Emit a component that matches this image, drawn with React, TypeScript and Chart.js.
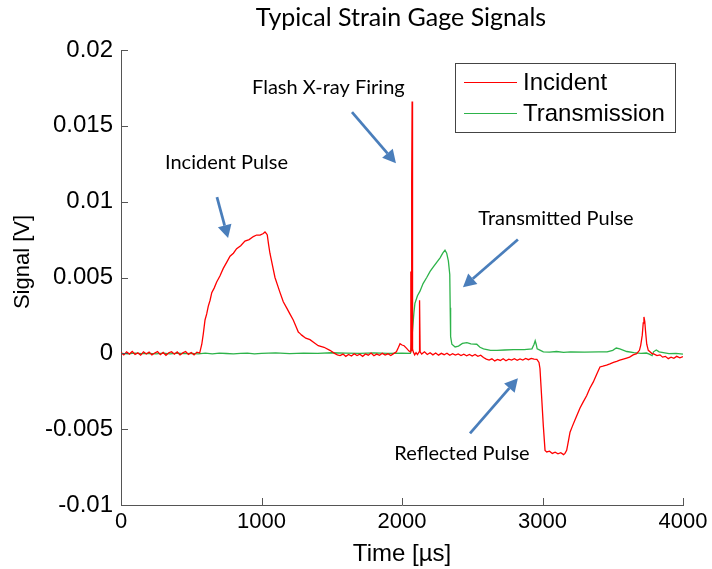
import React, { useEffect, useRef } from "react";
import { Chart, registerables } from "chart.js";

Chart.register(...registerables);

// ---- Data (time in µs, signal in V) ----
const incidentT = [
  0, 20, 40, 60, 80, 100, 120, 140, 160, 180, 200, 220, 240, 260, 280, 300, 320, 340, 360, 380,
  400, 420, 440, 460, 480, 500, 520, 540, 560, 575, 586, 598, 610, 621, 634, 646, 663, 681, 704, 728,
  752, 776, 800, 823, 852, 882, 912, 942, 965, 990, 1013, 1025, 1035, 1041, 1050, 1060, 1078, 1096, 1114, 1132,
  1155, 1179, 1202, 1226, 1244, 1262, 1275, 1286, 1315, 1345, 1375, 1404, 1445, 1487, 1520, 1540, 1559, 1580, 1600, 1620,
  1640, 1660, 1680, 1700, 1720, 1740, 1760, 1780, 1800, 1820, 1840, 1860, 1880, 1900, 1920, 1940, 1960, 1975, 1986, 2000,
  2015, 2033, 2050, 2060, 2063, 2066, 2069, 2072, 2075, 2080, 2090, 2100, 2110, 2122, 2125, 2129, 2140, 2160, 2180, 2200,
  2220, 2240, 2260, 2280, 2300, 2320, 2340, 2360, 2380, 2400, 2420, 2440, 2460, 2480, 2500, 2520, 2540, 2560, 2580, 2600,
  2620, 2640, 2660, 2680, 2700, 2720, 2740, 2760, 2780, 2800, 2820, 2840, 2860, 2880, 2900, 2920, 2940, 2960, 2975, 2982,
  2994, 3006, 3018, 3030, 3050, 3070, 3090, 3110, 3130, 3150, 3160, 3172, 3184, 3196, 3213, 3231, 3249, 3267, 3290, 3314,
  3337, 3361, 3385, 3409, 3430, 3456, 3480, 3505, 3528, 3550, 3575, 3599, 3620, 3645, 3670, 3690, 3699, 3710, 3717, 3722,
  3728, 3733, 3742, 3753, 3765, 3777, 3795, 3815, 3836, 3855, 3875, 3895, 3915, 3935, 3955, 3978, 4000,
];
const incidentV = [
  0.00005, -0.0001, 0.0001, -0.00005, 0.00012, -0.00008, 0.00003, -0.00012, 0.0001, -0.00004, 0.00008, -0.0001, 0.00002, 0.00011, -0.00009, 0.00006, -0.00013, 0.00004, 0.0001, -0.00006,
  0.00009, -0.00011, 0.00003, 0.00012, -0.00007, 0.00005, -0.0001, 0.00008, 0.00002, 0.0006, 0.0013, 0.0022, 0.0026, 0.0031, 0.0035, 0.004, 0.0043, 0.0047, 0.0051, 0.0056,
  0.006, 0.0064, 0.0066, 0.0069, 0.0071, 0.0074, 0.0075, 0.0077, 0.0078, 0.0078, 0.0079, 0.008, 0.0079, 0.0078, 0.0072, 0.0066, 0.0058, 0.005, 0.0045, 0.004,
  0.0034, 0.003, 0.0026, 0.0022, 0.0018, 0.0014, 0.0013, 0.0012, 0.001, 0.0009, 0.0007, 0.0005, 0.0004, 0.0002, 0.0, -0.0001, -0.00015, -0.00005, -0.0002, -0.00008,
  -0.00018, -0.00003, -0.00015, -0.00006, -0.0002, -0.00004, -0.00012, 0.00002, -0.00016, -0.00005, -0.00013, 0.0, -0.00011, -0.00003, -0.00014, -0.00002, 0.0001, 0.0004, 0.00064, 0.00055,
  0.0005, 0.00033, 0.00015, 0.0001, 0.0054, 0.0002, 0.0114, 0.0166, 0.0003, 0.0001, -0.0001, 0.00005, -0.00008, 0.0001, 0.0035, 0.0001, -0.00005, 0.0001, -0.00008, 0.00004,
  -0.0001, 0.00002, -0.00012, 0.0, -0.00009, 0.00001, -0.00013, -0.00002, -0.00012, -0.00004, -0.00015, -0.00006, -0.00016, -0.00007, -0.00018, -0.00008, -0.0002, -0.00012, -0.00028, -0.00038,
  -0.00045, -0.00036, -0.0005, -0.0004, -0.00047, -0.00036, -0.00049, -0.00038, -0.00045, -0.00035, -0.00046, -0.00037, -0.00044, -0.00034, -0.00042, -0.00033, -0.00038, -0.0004, -0.0006, -0.001,
  -0.0029, -0.0048, -0.0064, -0.0065, -0.00645, -0.0066, -0.00652, -0.00662, -0.00655, -0.00668, -0.0066, -0.0064, -0.0058, -0.0052, -0.0048, -0.0044, -0.004, -0.0036, -0.0032, -0.0028,
  -0.0023, -0.0019, -0.0014, -0.0009, -0.00085, -0.00078, -0.0007, -0.0006, -0.00053, -0.00045, -0.00038, -0.00031, -0.00025, -0.0001, -0.00002, 0.0002, 0.00053, 0.0012, 0.002, 0.0024,
  0.0021, 0.0015, 0.0006, 0.0002, 0.0001, 0.0, -0.00005, -0.00015, -0.0001, -0.00025, -0.0002, -0.00035, -0.00025, -0.00033, -0.0002, -0.0003, -0.00022,
];

const transT = [
  0, 50, 100, 150, 200, 250, 300, 350, 400, 450, 500, 550, 600, 650, 700, 750, 800, 850, 900, 950,
  1000, 1100, 1200, 1300, 1400, 1500, 1600, 1700, 1800, 1900, 2000, 2060, 2066, 2072, 2085, 2092, 2110, 2128, 2150, 2176,
  2200, 2223, 2247, 2271, 2290, 2306, 2318, 2330, 2340, 2343, 2346, 2355, 2378, 2402, 2430, 2462, 2490, 2532, 2555, 2580,
  2630, 2676, 2730, 2795, 2870, 2925, 2940, 2948, 2955, 2962, 2985, 3006, 3050, 3100, 3150, 3200, 3300, 3400, 3460, 3500,
  3525, 3550, 3600, 3650, 3700, 3740, 3760, 3780, 3790, 3810, 3830, 3860, 3900, 3950, 4000,
];
const transV = [
  0.0, -0.00003, 0.00002, -0.00002, 0.0, -0.00004, 0.00001, -0.00003, 0.00002, -0.00002, 0.0, -0.00004, 0.00001, -0.00003, 0.00002, -0.00001, -0.00004, 0.0, 0.00002, -0.00003,
  0.0, 0.00003, -0.00002, 0.00002, 0.0, 0.00004, 0.00002, 0.0, 0.00003, 0.0, 0.00002, 0.0, 0.0004, 0.0012, 0.0027, 0.0033, 0.0038, 0.0041, 0.0046, 0.005,
  0.0054, 0.0057, 0.006, 0.0063, 0.0066, 0.0068, 0.0066, 0.0061, 0.0052, 0.003, 0.0011, 0.0006, 0.00042, 0.00048, 0.00065, 0.0007, 0.00062, 0.0006, 0.0004, 0.0003,
  0.0002, 0.0002, 0.00022, 0.00025, 0.00025, 0.0003, 0.0006, 0.00083, 0.0006, 0.0003, 0.0002, 0.0001, 0.00008, 0.00012, 0.00006, 0.0001, 0.00008, 0.0001, 0.0001, 0.0002,
  0.00035, 0.0003, 0.00012, 0.00005, 0.0, 0.00002, -0.00005, -0.00015, 0.0001, 0.00022, 0.0001, 0.00005, -0.00002, 0.0, -0.00005,
];

const seriesNames = ["Incident", "Transmission"];
const seriesColors = ["#ff0000", "#2db34a"];

const xTicks = [0, 1000, 2000, 3000, 4000];
const yTicks = [-0.01, -0.005, 0, 0.005, 0.01, 0.015, 0.02];

const chartTitle = "Typical Strain Gage Signals";
const xTitle = "Time [µs]";
const yTitle = "Signal [V]";

// annotation labels: text at (time, signal)
const noteTexts = ["Flash X-ray Firing", "Incident Pulse", "Transmitted Pulse", "Reflected Pulse"];
const noteT = [1476, 751, 3096, 2427];
const noteV = [0.0175, 0.0126, 0.0089, -0.0066];
// arrows: start (t, v) -> tip (t, v)
const arrowT0 = [1644, 683, 2825, 2484];
const arrowV0 = [0.0159, 0.0103, 0.0075, -0.00528];
const arrowT1 = [1957, 762, 2434, 2825];
const arrowV1 = [0.01254, 0.0076, 0.00436, -0.00165];

const AXIS_FONT = "'Liberation Sans', Arial, sans-serif";
const NOTE_FONT = "Lato, 'Open Sans', sans-serif";

const overlay = {
  id: "overlay",
  afterDraw(chart: any) {
    const { ctx, chartArea } = chart;
    const xs = chart.scales.x;
    const ys = chart.scales.y;
    ctx.save();
    // inward ticks
    ctx.strokeStyle = "#555";
    ctx.lineWidth = 1;
    xTicks.forEach((t) => {
      const px = Math.round(xs.getPixelForValue(t)) + 0.5;
      ctx.beginPath();
      ctx.moveTo(px, chartArea.bottom);
      ctx.lineTo(px, chartArea.bottom - 7);
      ctx.stroke();
    });
    yTicks.forEach((v) => {
      const py = Math.round(ys.getPixelForValue(v)) + 0.5;
      ctx.beginPath();
      ctx.moveTo(chartArea.left, py);
      ctx.lineTo(chartArea.left + 7, py);
      ctx.stroke();
    });

    // y axis title
    ctx.fillStyle = "#000";
    ctx.save();
    ctx.translate(23, 262);
    ctx.rotate(-Math.PI / 2);
    ctx.font = `22px ${AXIS_FONT}`;
    ctx.textAlign = "center";
    ctx.textBaseline = "middle";
    ctx.fillText(yTitle, 0, 0);
    ctx.restore();

    // title
    ctx.font = `25px ${NOTE_FONT}`;
    ctx.textAlign = "center";
    ctx.textBaseline = "middle";
    ctx.fillText(chartTitle, 401, 18);

    // annotation texts
    ctx.font = `20px ${NOTE_FONT}`;
    noteTexts.forEach((txt, i) => {
      ctx.fillText(txt, xs.getPixelForValue(noteT[i]), ys.getPixelForValue(noteV[i]));
    });

    // arrows
    ctx.strokeStyle = "#4a7ebb";
    ctx.fillStyle = "#4a7ebb";
    ctx.lineWidth = 2.75;
    arrowT0.forEach((_, i) => {
      const x0 = xs.getPixelForValue(arrowT0[i]);
      const y0 = ys.getPixelForValue(arrowV0[i]);
      const x1 = xs.getPixelForValue(arrowT1[i]);
      const y1 = ys.getPixelForValue(arrowV1[i]);
      const ang = Math.atan2(y1 - y0, x1 - x0);
      const hl = 13;
      const hw = 7;
      const bx = x1 - hl * Math.cos(ang);
      const by = y1 - hl * Math.sin(ang);
      ctx.beginPath();
      ctx.moveTo(x0, y0);
      ctx.lineTo(bx, by);
      ctx.stroke();
      ctx.beginPath();
      ctx.moveTo(x1, y1);
      ctx.lineTo(bx + hw * Math.sin(ang), by - hw * Math.cos(ang));
      ctx.lineTo(bx - hw * Math.sin(ang), by + hw * Math.cos(ang));
      ctx.closePath();
      ctx.fill();
    });

    // legend box
    const lx = 455, ly = 63, lw = 220, lh = 69;
    ctx.fillStyle = "#fff";
    ctx.fillRect(lx, ly, lw, lh);
    ctx.strokeStyle = "#444";
    ctx.lineWidth = 1;
    ctx.strokeRect(lx + 0.5, ly + 0.5, lw, lh);
    ctx.font = `24px ${AXIS_FONT}`;
    ctx.textAlign = "left";
    ctx.textBaseline = "middle";
    seriesNames.forEach((name, i) => {
      const yy = ly + 19 + i * 31;
      ctx.strokeStyle = seriesColors[i];
      ctx.beginPath();
      ctx.moveTo(lx + 9, yy + 0.5);
      ctx.lineTo(lx + 62, yy + 0.5);
      ctx.stroke();
      ctx.fillStyle = "#000";
      ctx.fillText(name, lx + 68, yy + 1);
    });
    ctx.restore();
  },
};

export default function App() {
  const ref = useRef<HTMLCanvasElement>(null);
  useEffect(() => {
    document.body.style.margin = "0";
    const canvas = ref.current!;
    const chart = new Chart(canvas, {
      type: "line",
      data: {
        datasets: [
          {
            label: seriesNames[0],
            data: incidentT.map((t, i) => ({ x: t, y: incidentV[i] })),
            borderColor: seriesColors[0],
            borderWidth: 1.3,
            pointRadius: 0,
            tension: 0,
          },
          {
            label: seriesNames[1],
            data: transT.map((t, i) => ({ x: t, y: transV[i] })),
            borderColor: seriesColors[1],
            borderWidth: 1.3,
            pointRadius: 0,
            tension: 0,
          },
        ],
      },
      options: {
        responsive: false,
        animation: false,
        events: [],
        layout: { padding: { top: 50, right: 29, bottom: 0, left: 0 } },
        plugins: {
          legend: { display: false },
          title: { display: false },
          tooltip: { enabled: false },
        },
        scales: {
          x: {
            type: "linear",
            min: 0,
            max: 4000,
            afterBuildTicks: (s: any) => {
              s.ticks = xTicks.map((v) => ({ value: v }));
            },
            afterFit: (s: any) => {
              s.height = 64;
            },
            ticks: {
              callback: (v: any) => String(v),
              font: { family: AXIS_FONT, size: 22 },
              color: "#000",
              padding: 4,
              maxRotation: 0,
            },
            grid: { drawOnChartArea: false, drawTicks: false },
            border: { color: "#555", width: 1 },
            title: {
              display: true,
              text: xTitle,
              font: { family: AXIS_FONT, size: 24 },
              color: "#000",
              padding: { top: 5, bottom: 0 },
            },
          },
          y: {
            type: "linear",
            min: -0.01,
            max: 0.02,
            afterBuildTicks: (s: any) => {
              s.ticks = yTicks.map((v) => ({ value: v }));
            },
            afterFit: (s: any) => {
              s.width = 121;
            },
            ticks: {
              callback: (v: any) => {
                const n = Number(v);
                if (Math.abs(n) < 1e-12) return "0";
                return String(Number(n.toFixed(3)));
              },
              font: { family: AXIS_FONT, size: 24 },
              color: "#000",
              padding: 8,
            },
            grid: { drawOnChartArea: false, drawTicks: false },
            border: { color: "#555", width: 1 },
            title: { display: false },
          },
        },
      },
      plugins: [overlay],
    } as any);
    return () => chart.destroy();
  }, []);
  return (
    <div style={{ position: "absolute", left: 0, top: 0, width: 712, height: 569 }}>
      <canvas ref={ref} width={712} height={569} style={{ display: "block", width: 712, height: 569 }} />
    </div>
  );
}
